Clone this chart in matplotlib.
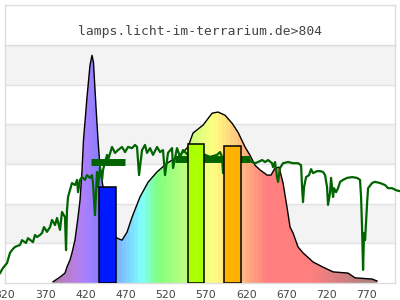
import numpy as np
import matplotlib
matplotlib.use('Agg')
import matplotlib.pyplot as plt
from matplotlib.patches import Polygon

# lamp spectrum (relative units, 6 = top of chart)
lamp_nm = [379.7, 388.4, 394.6, 397.0, 400.8, 403.3, 407.0, 410.8, 413.3, 415.8,
           417.6, 422.0, 425.7, 428.2, 430.0, 433.2, 435.7, 438.2, 441.9, 448.0,
           454.3, 459.3, 465.5, 471.7, 478.0, 487.9, 497.9, 509.0, 521.5, 537.7,
           547.6, 553.8, 566.3, 577.5, 584.9, 593.6, 602.3, 609.8, 618.5, 624.7,
           630.9, 637.2, 645.9, 650.8, 655.8, 660.8, 665.8, 670.7, 674.5, 678.2,
           684.4, 690.6, 703.1, 715.5, 728.0, 746.6, 755.3, 776.5, 782.7]
lamp_val = [0.03, 0.15, 0.25, 0.40, 0.58, 0.76, 1.08, 1.66, 2.09, 2.85,
            3.60, 4.69, 5.49, 5.74, 5.57, 4.43, 3.60, 2.92, 2.42, 1.71,
            1.28, 1.13, 1.08, 1.28, 1.66, 2.17, 2.54, 2.80, 3.02, 3.22,
            3.43, 3.78, 3.98, 4.28, 4.31, 4.23, 4.03, 3.80, 3.43, 3.22,
            2.97, 2.85, 2.72, 2.72, 2.90, 2.92, 2.52, 1.91, 1.41, 1.26,
            0.91, 0.76, 0.53, 0.40, 0.28, 0.25, 0.13, 0.10, 0.05]

# sunlight reference curve
sun_nm = [313.8, 317.5, 322.5, 326.2, 328.7, 332.4, 338.7, 341.1, 346.1, 348.6,
          354.8, 357.3, 359.8, 363.5, 366.0, 368.5, 372.2, 376.0, 378.5, 382.2,
          384.7, 388.4, 390.9, 394.6, 395.9, 397.1, 398.4, 403.3, 407.1, 409.6,
          410.8, 413.3, 415.8, 419.5, 422.0, 425.7, 428.2, 429.4, 431.9, 434.4,
          435.7, 438.2, 440.7, 441.9, 446.9, 448.1, 453.1, 456.8, 460.5, 465.5,
          469.3, 473.0, 478.0, 481.7, 484.2, 486.7, 490.4, 494.1, 496.6, 500.4,
          504.1, 509.1, 512.8, 516.5, 519.0, 522.7, 527.7, 529.0, 533.9, 537.7,
          541.4, 547.6, 557.6, 568.8, 575.0, 583.7, 587.4, 589.9, 591.2, 592.4,
          603.6, 614.8, 618.5, 622.2, 627.2, 630.9, 634.7, 639.7, 643.4, 647.1,
          652.1, 653.3, 655.8, 658.3, 659.6, 662.0, 665.8, 672.0, 678.2, 684.4,
          688.2, 689.4, 690.6, 691.9, 694.4, 698.1, 700.6, 703.1, 708.1, 711.8,
          715.5, 718.0, 720.5, 721.7, 724.2, 725.5, 728.0, 729.2, 731.7, 734.2,
          736.7, 740.4, 745.4, 751.6, 757.8, 761.5, 762.8, 764.0, 765.3, 766.5,
          767.8, 770.3, 771.5, 776.5, 780.2, 786.4, 792.6, 796.4, 801.4, 806.3,
          810.0]
sun_val = [0.25, 0.38, 0.50, 0.76, 0.83, 0.91, 0.96, 1.08, 1.01, 1.13,
           1.03, 1.21, 1.16, 1.21, 1.26, 1.41, 1.29, 1.41, 1.59, 1.46,
           1.64, 1.34, 1.79, 1.66, 0.83, 1.84, 2.17, 2.52, 2.47, 2.60,
           2.29, 2.60, 2.67, 2.60, 2.72, 2.65, 2.72, 2.52, 1.71, 2.80,
           2.42, 2.92, 2.60, 2.85, 3.23, 3.10, 3.43, 3.28, 3.35, 3.43,
           3.30, 3.43, 3.40, 3.48, 3.43, 2.72, 3.35, 3.48, 3.28, 3.40,
           3.23, 3.43, 3.30, 3.35, 2.72, 3.28, 3.40, 2.90, 3.40, 3.18,
           3.35, 3.23, 3.28, 3.23, 3.18, 3.23, 3.30, 3.18, 2.77, 3.18,
           3.15, 3.15, 3.10, 3.13, 3.05, 3.02, 3.05, 3.10, 3.05, 3.10,
           3.02, 2.92, 3.05, 2.67, 2.55, 2.90, 3.02, 3.05, 3.02, 3.02,
           2.97, 2.42, 2.04, 2.42, 2.67, 2.72, 2.87, 2.77, 2.82, 2.82,
           2.80, 2.72, 2.42, 1.97, 2.27, 2.65, 2.17, 2.39, 2.29, 2.39,
           2.55, 2.60, 2.65, 2.67, 2.65, 2.60, 2.17, 1.41, 0.33, 1.26,
           1.08, 2.02, 2.39, 2.52, 2.55, 2.52, 2.47, 2.39, 2.39, 2.34,
           2.32]

# colour band bars
bar_center = [448, 557.5, 603]
bar_height = [2.42, 3.50, 3.45]
bar_colors = ['#0019ff', '#aaff00', '#ffb300']

# band averages of the sunlight curve
avg_start = [427, 531]
avg_end = [469, 625]
avg_val = [3.05, 3.13]

ticks = list(range(320, 771, 50))


def wl_color(w):
    # rough wavelength -> rgb, mixed half with white
    if w < 440:
        r, g, b = -(w - 440) / 60, 0.0, 1.0
    elif w < 490:
        r, g, b = 0.0, (w - 440) / 50, 1.0
    elif w < 510:
        r, g, b = 0.0, 1.0, -(w - 510) / 20
    elif w < 580:
        r, g, b = (w - 510) / 70, 1.0, 0.0
    elif w < 645:
        r, g, b = 1.0, -(w - 645) / 65, 0.0
    else:
        r, g, b = 1.0, 0.0, 0.0
    f = 1.0
    if w < 420:
        f = 0.3 + 0.7 * (w - 380) / 40
    elif w > 700:
        f = 0.3 + 0.7 * (780 - w) / 80
    f = min(max(f, 0.3), 1.0)
    rgb = np.clip(np.array([r, g, b]) * f, 0, 1)
    return 0.5 * rgb + 0.5


fig = plt.figure(figsize=(4, 3), dpi=100)
ax = fig.add_axes([5 / 400, 17 / 300, 390 / 400, 238 / 300])
ax.set_xlim(320, 805)
ax.set_ylim(0, 6)

# alternating bands
for lo in [1, 3, 5]:
    ax.axhspan(lo, lo + 1, color='#f3f3f3', zorder=0, lw=0)
for y in range(1, 6):
    ax.axhline(y, color='#e2e2e2', lw=1, zorder=0.5)

# rainbow filled spectrum
wl = np.arange(320, 806, 5)
img = np.array([[wl_color(w + 2.5) for w in wl]])
im = ax.imshow(img, extent=[320, 805 + 5, 0, 6], aspect='auto',
               interpolation='nearest', zorder=1)
pts = np.column_stack([[lamp_nm[0]] + lamp_nm + [lamp_nm[-1]],
                       [0] + lamp_val + [0]])
poly = Polygon(pts, closed=True, facecolor='none', edgecolor='none')
ax.add_patch(poly)
im.set_clip_path(poly)
ax.set_xlim(320, 805)
ax.set_ylim(0, 6)
ax.plot(lamp_nm, lamp_val, color='black', lw=1.0, zorder=2)

# sunlight curve
ax.plot(sun_nm, sun_val, color='#006400', lw=1.6, zorder=3, clip_on=False)

# band averages
for s, e, v in zip(avg_start, avg_end, avg_val):
    ax.plot([s, e], [v, v], color='#006400', lw=5, solid_capstyle='butt', zorder=4)

# bars
ax.bar(bar_center, bar_height, width=21, color=bar_colors,
       edgecolor='black', linewidth=1.1, zorder=5)

ax.set_xticks(ticks)
ax.set_xticklabels([str(t) for t in ticks])
ax.tick_params(axis='x', length=0, pad=5, labelsize=7.8, labelcolor='#444444')
ax.set_yticks([])
for sp in ax.spines.values():
    sp.set_color('#dddddd')
    sp.set_linewidth(1)

# title box
tax = fig.add_axes([5 / 400, 255 / 300, 390 / 400, 40 / 300])
tax.set_xticks([])
tax.set_yticks([])
for sp in tax.spines.values():
    sp.set_color('#dddddd')
    sp.set_linewidth(1)
tax.text(0.5, 0.33, 'lamps.licht-im-terrarium.de>804', ha='center', va='center',
         family='DejaVu Sans Mono', fontsize=9.4, color='#444444',
         transform=tax.transAxes)

fig.savefig('out.png', dpi=100)
